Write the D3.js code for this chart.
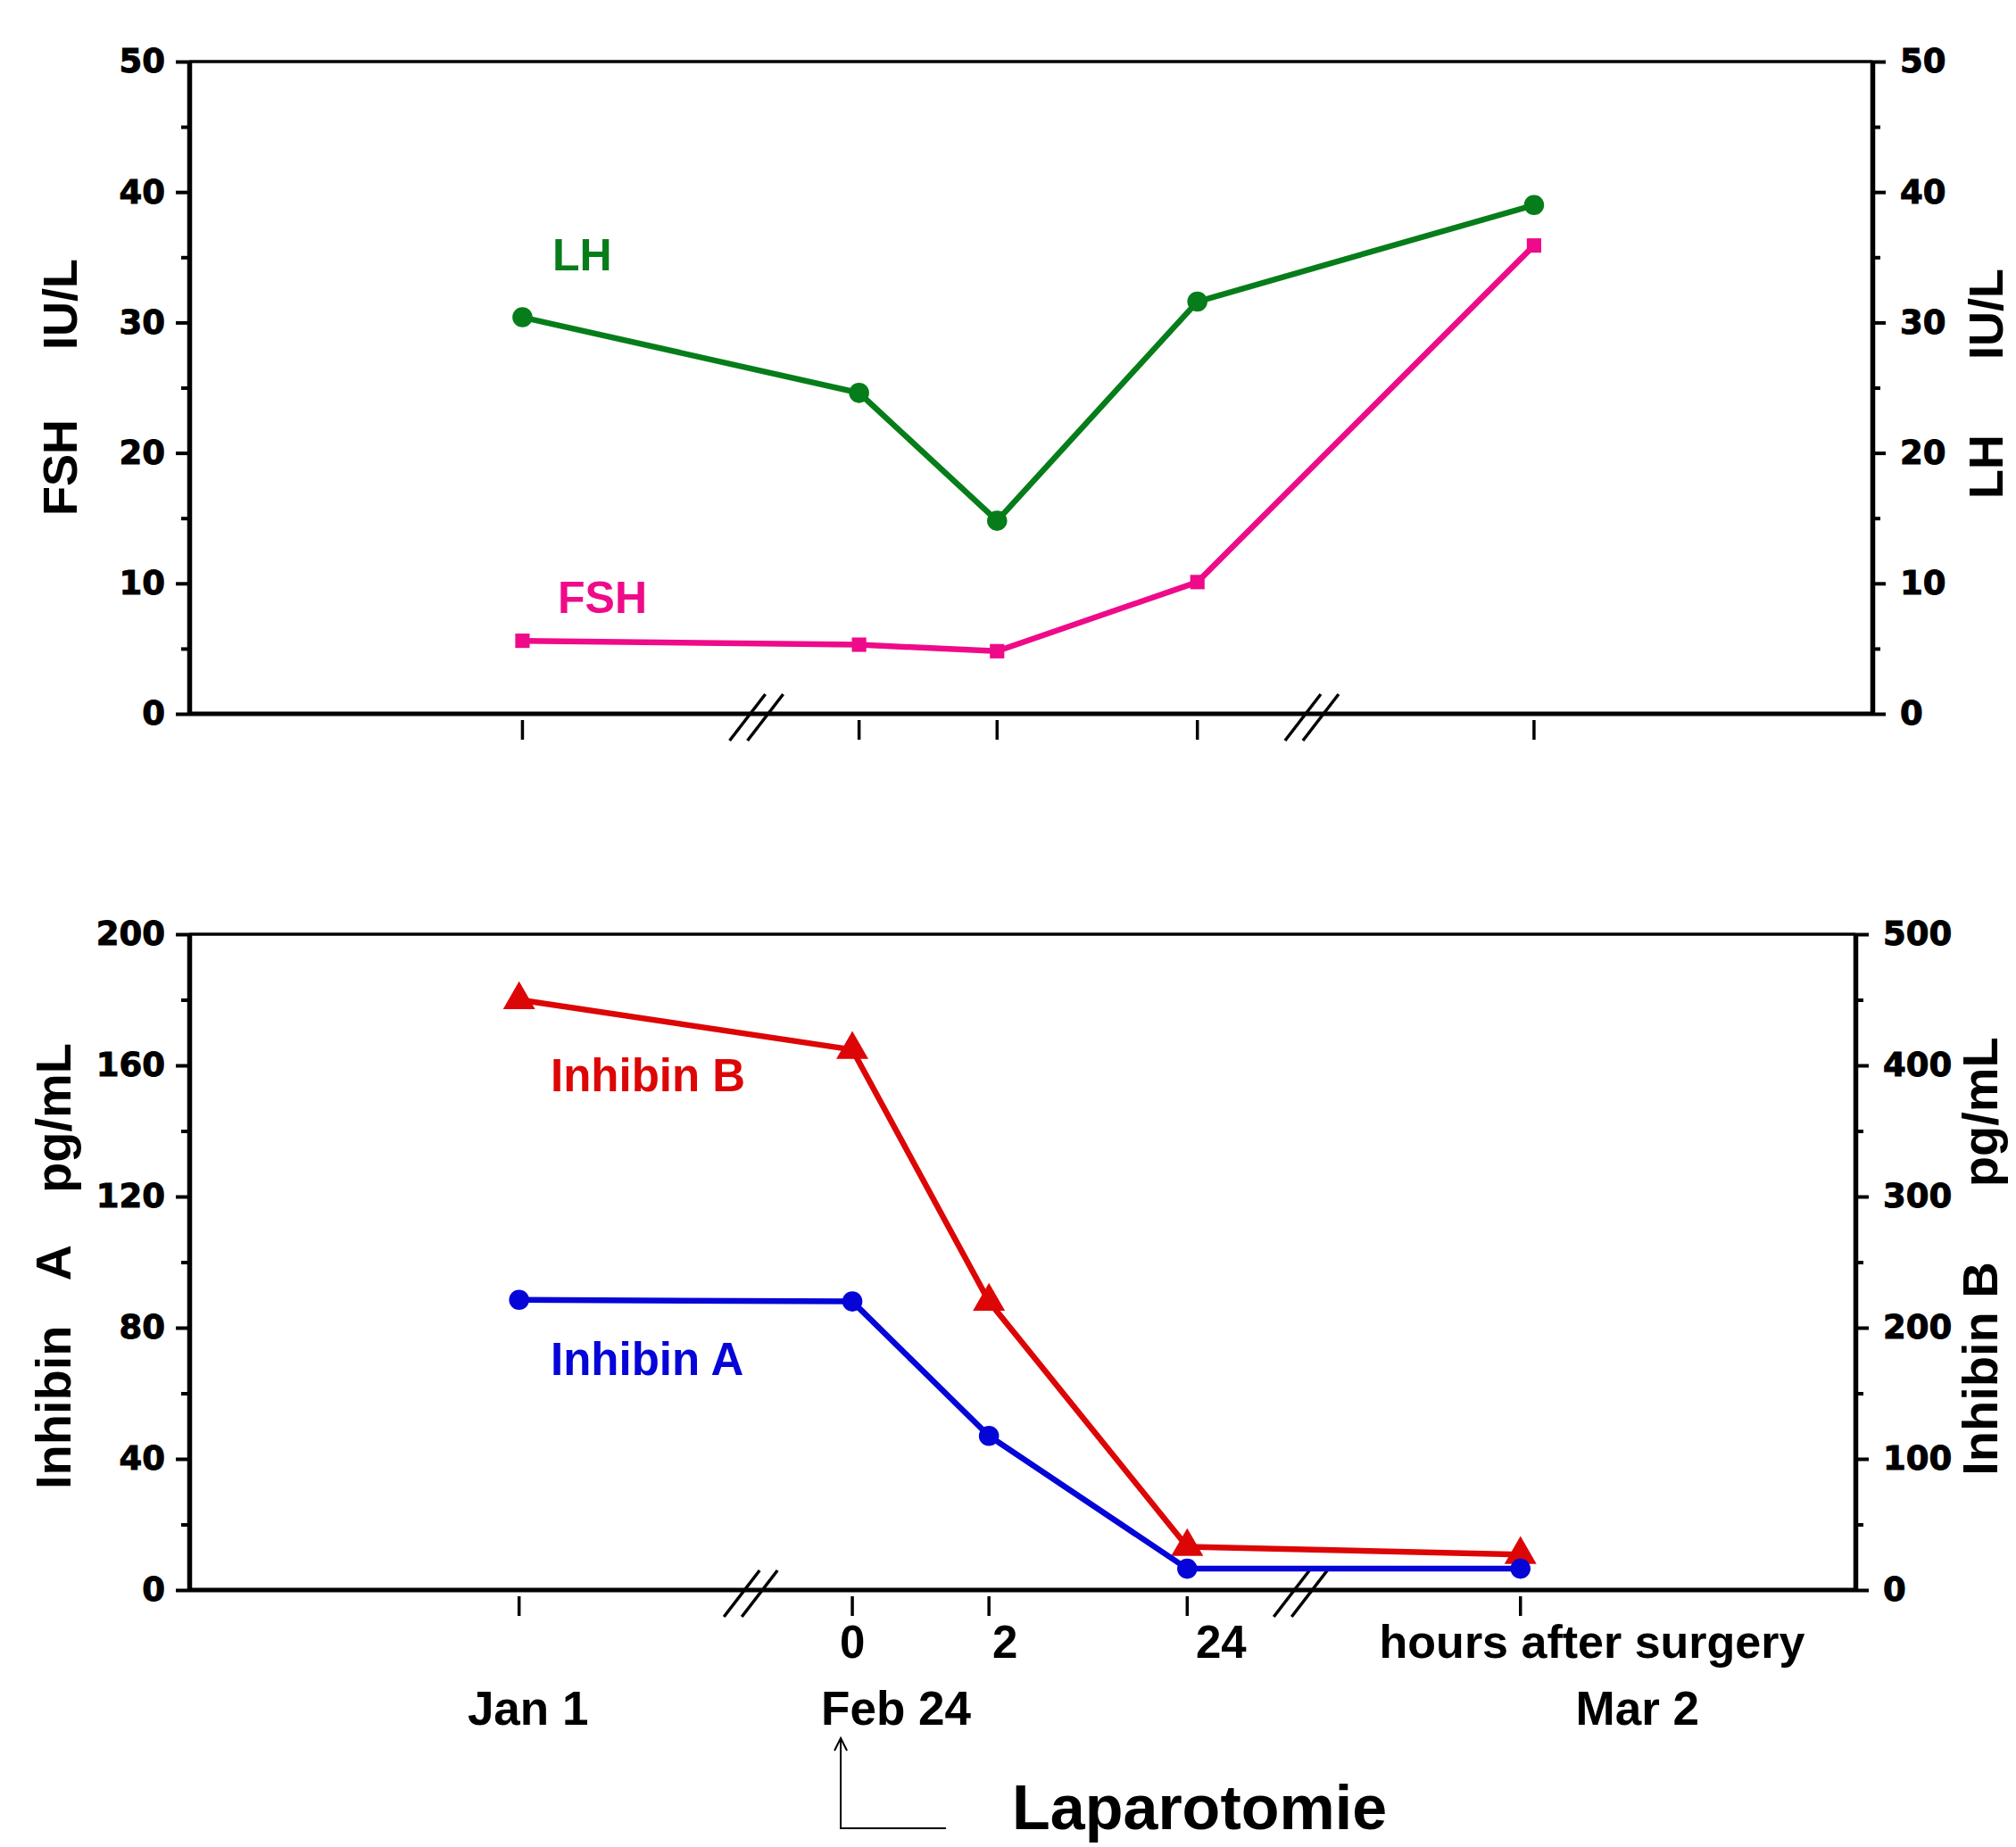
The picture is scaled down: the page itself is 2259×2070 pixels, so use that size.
<!DOCTYPE html>
<html>
<head>
<meta charset="utf-8">
<script src="https://cdn.jsdelivr.net/npm/d3@7"></script>
<style>
  body { margin: 0; background: #fff; }
  text { font-family: "Liberation Sans", Arial, sans-serif; font-weight: bold; }
  .tick text { font-family: "DejaVu Sans", sans-serif; font-weight: bold; stroke: #000; stroke-width: 1px; }
</style>
</head>
<body>
<div id="chart"></div>
<script>
// datos
var categories = ["Jan 1", "0", "2", "24", "Mar 2"];
var lhValues  = [30.4, 24.6, 14.8, 31.6, 39.0];
var fshValues = [5.6, 5.3, 4.8, 10.1, 35.9];
var inhibinA  = [88.5, 88.0, 47.0, 6.5, 6.5];
var inhibinB  = [450, 412, 220, 33, 27];

var hourLabels = ["0", "2", "24"];
var dateLabels = ["Jan 1", "Feb 24", "Mar 2"];

var hormoneTicks = [0, 10, 20, 30, 40, 50];
var inhATicks = [0, 40, 80, 120, 160, 200];
var inhBTicks = [0, 100, 200, 300, 400, 500];

var width = 2259, height = 2070;

// posicion relativa de cada categoria en el eje (con cortes)
var xFrac = [0.198, 0.398, 0.48, 0.599, 0.799];
var breakFrac = [0.337, 0.667];

var topBox = {l: 212, r: 2098, t: 69, b: 800};
var botBox = {l: 212, r: 2079, t: 1047, b: 1782};

var svg = d3.select("#chart").append("svg")
    .attr("width", width)
    .attr("height", height);

function xScaleFor(box) {
  return d3.scaleOrdinal()
    .domain(categories)
    .range(xFrac.map(function(f){ return box.l + f * (box.r - box.l); }));
}

function drawFrame(box, eYL, eYR, ticksL, ticksR, minorL, minorR) {
  // marco superior e inferior
  svg.append("line").attr("x1", box.l).attr("x2", box.r).attr("y1", box.t).attr("y2", box.t)
    .attr("stroke", "#000").attr("stroke-width", 3.5);
  svg.append("line").attr("x1", box.l).attr("x2", box.r).attr("y1", box.b).attr("y2", box.b)
    .attr("stroke", "#000").attr("stroke-width", 5);

  // ejes y
  var yL = svg.append("g").attr("transform", "translate(" + box.l + ",0)")
    .call(d3.axisLeft(eYL).tickValues(ticksL).tickSize(15).tickSizeOuter(0).tickPadding(12));
  var yLm = svg.append("g").attr("transform", "translate(" + box.l + ",0)")
    .call(d3.axisLeft(eYL).tickValues(minorL).tickSize(9).tickFormat(""));
  var yR = svg.append("g").attr("transform", "translate(" + box.r + ",0)")
    .call(d3.axisRight(eYR).tickValues(ticksR).tickSize(15).tickSizeOuter(0).tickPadding(16));
  var yRm = svg.append("g").attr("transform", "translate(" + box.r + ",0)")
    .call(d3.axisRight(eYR).tickValues(minorR).tickSize(9).tickFormat(""));

  [yL, yLm, yR, yRm].forEach(function(g){
    g.select(".domain").attr("stroke-width", 5.5);
    g.selectAll(".tick line").attr("stroke-width", 4);
    g.selectAll(".tick text").attr("font-size", 37).attr("fill", "#000");
  });
  [yLm, yRm].forEach(function(g){ g.select(".domain").remove(); });

  // eje x (solo marcas)
  var eX = xScaleFor(box);
  svg.append("g").selectAll("line.xt")
    .data(categories).enter().append("line")
    .attr("x1", function(d){ return eX(d); })
    .attr("x2", function(d){ return eX(d); })
    .attr("y1", box.b + 7).attr("y2", box.b + 29)
    .attr("stroke", "#000").attr("stroke-width", 3.5);

  // cortes //
  breakFrac.forEach(function(f){
    var cx = box.l + f * (box.r - box.l);
    [-10, 10].forEach(function(off){
      svg.append("line")
        .attr("x1", cx + off - 20).attr("y1", box.b + 30)
        .attr("x2", cx + off + 20).attr("y2", box.b - 22)
        .attr("stroke", "#000").attr("stroke-width", 3.5);
    });
  });
  return eX;
}

function drawSeries(eX, eY, values, color, shape, size) {
  var pts = categories.map(function(c, i){ return {c: c, v: values[i]}; });
  var line = d3.line().x(function(d){ return eX(d.c); }).y(function(d){ return eY(d.v); });
  svg.append("path").datum(pts)
    .attr("d", line).attr("fill", "none")
    .attr("stroke", color).attr("stroke-width", 6.5);
  svg.append("g").selectAll("path")
    .data(pts).enter().append("path")
    .attr("d", d3.symbol().type(shape).size(size))
    .attr("transform", function(d){ return "translate(" + eX(d.c) + "," + eY(d.v) + ")"; })
    .attr("fill", color);
}

function yTitle(x, y, parts, gaps, size) {
  var t = svg.append("text")
    .attr("transform", "translate(" + x + "," + y + ") rotate(-90)")
    .attr("text-anchor", "middle")
    .attr("font-size", size)
    .attr("fill", "#000");
  parts.forEach(function(p, i){
    t.append("tspan").attr("dx", i ? gaps[i - 1] : 0).text(p);
  });
}

// GRAFICO SUPERIOR: FSH / LH
var eYtop = d3.scaleLinear().domain([0, 50]).range([topBox.b, topBox.t]);
var minorTop = [5, 15, 25, 35, 45];
var eXtop = drawFrame(topBox, eYtop, eYtop, hormoneTicks, hormoneTicks, minorTop, minorTop);

drawSeries(eXtop, eYtop, lhValues, "#067d1a", d3.symbolCircle, 400);
drawSeries(eXtop, eYtop, fshValues, "#ef0a8a", d3.symbolSquare, 260);

svg.append("text").attr("x", 619).attr("y", 303).attr("font-size", 50).attr("fill", "#067d1a").text("LH");
svg.append("text").attr("x", 625).attr("y", 687).attr("font-size", 50).attr("fill", "#ef0a8a").text("FSH");

yTitle(86, 434, ["FSH", "IU/L"], [78], 54);
yTitle(2244, 430, ["LH", "IU/L"], [84], 54);

// GRAFICO INFERIOR: inhibinas
var eYA = d3.scaleLinear().domain([0, 200]).range([botBox.b, botBox.t]);
var eYB = d3.scaleLinear().domain([0, 500]).range([botBox.b, botBox.t]);
var eXbot = drawFrame(botBox, eYA, eYB, inhATicks, inhBTicks, [20, 60, 100, 140, 180], [50, 150, 250, 350, 450]);

drawSeries(eXbot, eYB, inhibinB, "#dd0606", d3.symbolTriangle, 560);
drawSeries(eXbot, eYA, inhibinA, "#0505d8", d3.symbolCircle, 400);

svg.append("text").attr("x", 617).attr("y", 1223).attr("font-size", 51).attr("fill", "#dd0606").text("Inhibin B");
svg.append("text").attr("x", 617).attr("y", 1541).attr("font-size", 51).attr("fill", "#0505d8").text("Inhibin A");

yTitle(79, 1419, ["Inhibin", "A", "pg/mL"], [50, 58], 56);
yTitle(2238, 1408, ["Inhibin B", "pg/mL"], [84], 56);

// etiquetas del eje x
var hourX = [0, 18, 38];
svg.append("g").selectAll("text")
  .data(hourLabels).enter().append("text")
  .attr("x", function(d, i){ return eXbot(categories[i + 1]) + hourX[i]; })
  .attr("y", 1858).attr("text-anchor", "middle").attr("font-size", 51)
  .text(function(d){ return d; });
svg.append("text").attr("x", 1784).attr("y", 1858).attr("text-anchor", "middle")
  .attr("font-size", 52).text("hours after surgery");

var dateX = [eXbot("Jan 1") + 10, eXbot("0") + 49, eXbot("Mar 2") + 131];
svg.append("g").selectAll("text")
  .data(dateLabels).enter().append("text")
  .attr("x", function(d, i){ return dateX[i]; })
  .attr("y", 1933).attr("text-anchor", "middle").attr("font-size", 53)
  .text(function(d){ return d; });

// flecha laparotomia
var ax = eXbot("0") - 13;
svg.append("path")
  .attr("d", "M" + (ax + 118) + ",2049 H" + ax + " V1948")
  .attr("fill", "none").attr("stroke", "#000").attr("stroke-width", 2);
svg.append("path")
  .attr("d", "M" + (ax - 7) + ",1962 L" + ax + ",1948 L" + (ax + 7) + ",1962")
  .attr("fill", "none").attr("stroke", "#000").attr("stroke-width", 2);
svg.append("text").attr("x", 1134).attr("y", 2050).attr("font-size", 70).text("Laparotomie");
</script>
</body>
</html>
